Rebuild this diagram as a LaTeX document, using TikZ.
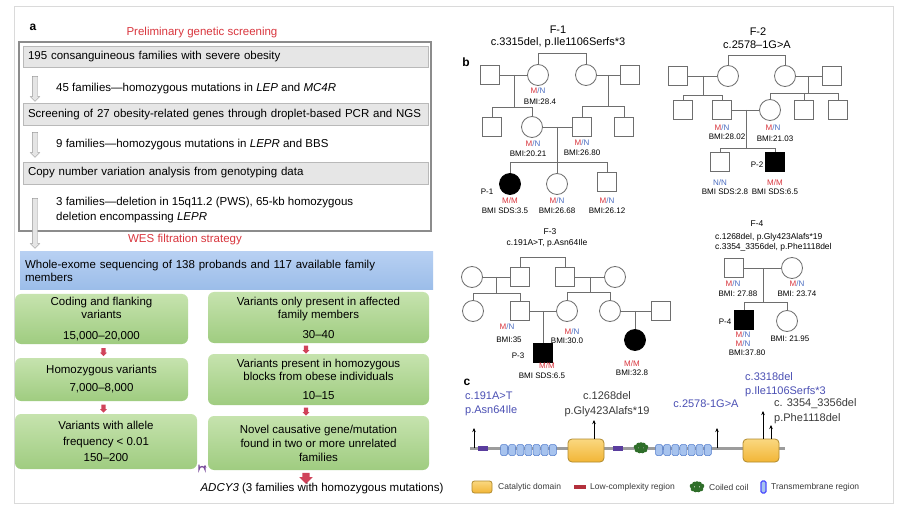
\documentclass[tikz,border=0pt]{standalone}
\usepackage{fontspec}
\setmainfont{Liberation Sans}
\usepackage{amsmath}
\usepackage[dvipsnames]{xcolor}
\usepackage{tikz}
\usetikzlibrary{calc,shapes.arrows,arrows.meta}

\definecolor{hred}{HTML}{D9363E}
\definecolor{boxgray}{HTML}{E6E6E6}
\definecolor{linegray}{HTML}{8C8C8C}
\definecolor{framegray}{HTML}{DADADA}
\definecolor{westop}{HTML}{B7D0F2}
\definecolor{wesbot}{HTML}{9BBDE9}
\definecolor{gtop}{HTML}{C6E3AE}
\definecolor{gbot}{HTML}{9FCC80}
\definecolor{arrred}{HTML}{D0435A}
\definecolor{upurple}{HTML}{7A4C9C}
\definecolor{pedgray}{HTML}{6E6E6E}
\definecolor{mred}{HTML}{D9363E}
\definecolor{nblue}{HTML}{4A6CC0}
\definecolor{mutblue}{HTML}{4B50B4}
\definecolor{mutgray}{HTML}{3A3A3A}
\definecolor{cattop}{HTML}{FAD880}
\definecolor{catbot}{HTML}{F2B536}
\definecolor{catedge}{HTML}{B08A2E}
\definecolor{tmblue}{HTML}{A7C3EE}
\definecolor{tmedge}{HTML}{4F7ACB}
\definecolor{lcpurple}{HTML}{5A3D9E}
\definecolor{lcred}{HTML}{B3303C}
\definecolor{ccgreen}{HTML}{2F6E2A}
\definecolor{protgray}{HTML}{9C9C9C}

\newcommand{\MN}{\textcolor{mred}{M}\textcolor{nblue}{/N}}
\newcommand{\MM}{\textcolor{mred}{M/M}}
\newcommand{\NN}{\textcolor{nblue}{N/N}}

\begin{document}
\begin{tikzpicture}[x=1pt,y=-1pt]
\tikzstyle{panel} = [font=\fontsize{12}{13}\selectfont\bfseries, inner sep=0pt]
\tikzstyle{heading} = [text=hred, font=\fontsize{11.5}{13}\selectfont, inner sep=0pt]
\tikzstyle{body} = [font=\fontsize{11.5}{15}\selectfont, anchor=west, align=left, inner sep=0pt]
\tikzstyle{graybox} = [draw=gray!55, fill=boxgray, line width=0.8pt, text width=395pt, inner xsep=5pt, inner ysep=0pt, align=left, font=\fontsize{11.5}{13}\selectfont]
\tikzstyle{wesbox} = [top color=westop, bottom color=wesbot, text width=403pt, inner xsep=5pt, inner ysep=0pt, align=left, font=\fontsize{11.5}{13}\selectfont]
\tikzstyle{hollow} = [single arrow, shape border rotate=270, draw=gray!80, fill=gray!20, inner sep=2.5pt, single arrow head extend=2pt]
\tikzstyle{greenbox} = [rounded corners=6pt, top color=gtop, bottom color=gbot, align=center, inner sep=0pt, font=\fontsize{11.5}{13}\selectfont]
\tikzstyle{redarrow} = [single arrow, shape border rotate=270, fill=arrred, inner sep=2pt, single arrow head extend=1.2pt, minimum height=8pt]
\tikzstyle{male} = [draw=pedgray, fill=white, line width=0.8pt, minimum size=19pt, inner sep=0pt]
\tikzstyle{female} = [circle, draw=pedgray, fill=white, line width=0.8pt, minimum size=21pt, inner sep=0pt]
\tikzstyle{affected} = [fill=black, draw=black]
\tikzstyle{ped} = [draw=pedgray, line width=0.8pt]
\tikzstyle{geno} = [font=\fontsize{8}{9}\selectfont, inner sep=0pt]
\tikzstyle{famtitle} = [font=\fontsize{11}{12}\selectfont, inner sep=0pt]
\tikzstyle{famsmall} = [font=\fontsize{8.5}{10}\selectfont, inner sep=0pt]
\tikzstyle{backbone} = [draw=protgray, line width=3pt]
\tikzstyle{tm} = [rounded corners=1.5pt, fill=tmblue, draw=tmedge, line width=0.5pt, minimum width=7pt, minimum height=11pt, inner sep=0pt]
\tikzstyle{cat} = [rounded corners=4pt, top color=cattop, bottom color=catbot, draw=catedge, line width=0.8pt, inner sep=0pt]
\tikzstyle{lolli} = [-{Stealth[length=4pt,width=3.5pt]}, line width=0.6pt]
\tikzstyle{mut} = [font=\fontsize{11}{14.5}\selectfont, inner sep=0pt]
\tikzstyle{legend} = [font=\fontsize{8.5}{10}\selectfont, inner sep=0pt, anchor=west, text=mutgray]

\useasboundingbox (0,0) rectangle (903,513);
\fill[white] (0,0) rectangle (903,513);
\draw[framegray, line width=1pt] (14,7) rectangle (893,503);

% panel a
\node[panel] (la) at (33,27) {a};
\node[heading] (hprelim) at (202,33) {Preliminary genetic screening};
\draw[linegray, line width=1.2pt] (19,42) rectangle (431,231);
\node[graybox, minimum height=21pt] (s1) at (225.5,56.5) {195 consanguineous families with severe obesity};
\node[graybox, minimum height=22pt] (s2) at (225.5,114.5) {Screening of 27 obesity-related genes through droplet-based PCR and NGS};
\node[graybox, minimum height=22pt] (s3) at (225.5,173) {Copy number variation analysis from genotyping data};
\node[hollow, minimum height=25pt] (h1) at (35,87.5) {};
\node[hollow, minimum height=25pt] (h2) at (35,143.5) {};
\node[hollow, minimum height=50pt] (h3) at (35,222) {};
\node[body] (t1) at (56,89) {45 families—homozygous mutations in \textit{LEP} and \textit{MC4R}};
\node[body] (t2) at (56,145) {9 families—homozygous mutations in \textit{LEPR} and BBS};
\node[body] (t3) at (56,210.5) {3 families—deletion in 15q11.2 (PWS), 65-kb homozygous\\deletion encompassing \textit{LEPR}};
\node[heading] (hwes) at (185,240) {WES filtration strategy};
\node[wesbox, minimum height=38pt] (wes) at (226.5,271) {Whole-exome sequencing of 138 probands and 117 available family\\members};

\node[greenbox, minimum width=173pt, minimum height=50pt] (cod) at (101.5,319) {Coding and flanking\\variants\\[8pt]15,000–20,000};
\node[greenbox, minimum width=173pt, minimum height=43pt] (hom) at (101.5,379.5) {Homozygous variants\\[5pt]7,000–8,000};
\node[greenbox, minimum width=182pt, minimum height=55pt] (frq) at (106,441.5) {Variants with allele\\[3pt]frequency < 0.01\\[3pt]150–200};
\node[greenbox, minimum width=221pt, minimum height=51pt] (aff) at (318.5,317.5) {Variants only present in affected\\family members\\[7pt]30–40};
\node[greenbox, minimum width=221pt, minimum height=51pt] (blk) at (318.5,379.5) {Variants present in homozygous\\blocks from obese individuals\\[6pt]10–15};
\node[greenbox, minimum width=221pt, minimum height=54pt] (nov) at (318.5,443) {Novel causative gene/mutation\\[1pt]found in two or more unrelated\\[1pt]families};
\node[redarrow] (r1) at (103.5,351) {};
\node[redarrow] (r2) at (103.5,407.5) {};
\node[redarrow] (r3) at (306,348.5) {};
\node[redarrow] (r4) at (306,410.5) {};
\node[redarrow, inner sep=3.5pt, single arrow head extend=3pt, minimum height=11pt] (r5) at (306,476.5) {};
\node[font=\fontsize{11.5}{13}\selectfont, inner sep=0pt] (adcy) at (322,489) {\textit{ADCY3} (3 families with homozygous mutations)};
\draw[upurple, line width=1.3pt, -{Stealth[length=2.5pt,width=3pt]}] (199,464.5) -- (199,469.5) arc[start angle=180, end angle=360, radius=3] -- (205,465);

% panel b
\node[panel] (lb) at (466,62) {b};
\node[famtitle] (f1t) at (558,30) {F-1};
\node[famtitle] (f1v) at (558,43) {c.3315del, p.Ile1106Serfs*3};
\node[male] (f1a) at (490,75) {};
\node[female] (f1b) at (538,75) {};
\node[female] (f1c) at (586,75) {};
\node[male] (f1d) at (630,75) {};
\node[male] (f1e) at (492,127) {};
\node[female] (f1f) at (532,127) {};
\node[male] (f1g) at (582,127) {};
\node[male] (f1h) at (624,127) {};
\node[female, affected] (f1i) at (510,184) {};
\node[female] (f1j) at (557,184) {};
\node[male] (f1k) at (607,182) {};
\coordinate (f1s0) at (0,53);
\coordinate (f1s1) at (0,107);
\coordinate (f1s2) at (0,106);
\coordinate (f1s3) at (0,162);
\coordinate (f1m1) at ($(f1a)!0.5!(f1b)$);
\coordinate (f1m2) at ($(f1c)!0.5!(f1d)$);
\coordinate (f1m3) at ($(f1f)!0.5!(f1g)$);
\draw[ped] (f1b.north) |- (f1s0 -| f1c.north) -- (f1c.north);
\draw[ped] (f1a) -- (f1b);
\draw[ped] (f1c) -- (f1d);
\draw[ped] (f1f) -- (f1g);
\draw[ped] (f1m1) -- (f1m1 |- f1s1);
\draw[ped] (f1e.north) |- (f1s1 -| f1f.north) -- (f1f.north);
\draw[ped] (f1m2) -- (f1m2 |- f1s2);
\draw[ped] (f1g.north) |- (f1s2 -| f1h.north) -- (f1h.north);
\draw[ped] (f1m3) -- (f1j.north);
\draw[ped] (f1i.north) |- (f1s3 -| f1k.north) -- (f1k.north);
\node[geno] (f1bg) at (538,91) {\MN};
\node[geno] (f1bb) at (540,102) {BMI:28.4};
\node[geno] (f1fg) at (533,144) {\MN};
\node[geno] (f1fb) at (528,154) {BMI:20.21};
\node[geno] (f1gg) at (582,143) {\MN};
\node[geno] (f1gb) at (582,153) {BMI:26.80};
\node[geno] (f1p) at (487,192) {P-1};
\node[geno] (f1ig) at (510,201) {\MM};
\node[geno] (f1ib) at (505,211) {BMI SDS:3.5};
\node[geno] (f1jg) at (557,201) {\MN};
\node[geno] (f1jb) at (557,211) {BMI:26.68};
\node[geno] (f1kg) at (607,201) {\MN};
\node[geno] (f1kb) at (607,211) {BMI:26.12};

\node[famtitle] (f2t) at (758,32) {F-2};
\node[famtitle] (f2v) at (757,45) {c.2578–1G>A};
\node[male] (f2a) at (678,76) {};
\node[female] (f2b) at (728,76) {};
\node[female] (f2c) at (785,76) {};
\node[male] (f2d) at (832,76) {};
\node[male] (f2e) at (683,110) {};
\node[male] (f2f) at (722,110) {};
\node[female] (f2g) at (770,110) {};
\node[male] (f2h) at (804,110) {};
\node[male] (f2i) at (838,110) {};
\node[male] (f2j) at (720,162) {};
\node[male, affected] (f2k) at (775,162) {};
\coordinate (f2s0) at (0,55);
\coordinate (f2s1) at (0,95);
\coordinate (f2s2) at (0,93);
\coordinate (f2s3) at (0,148);
\coordinate (f2m1) at ($(f2a)!0.5!(f2b)$);
\coordinate (f2m2) at ($(f2c)!0.5!(f2d)$);
\coordinate (f2m3) at ($(f2f)!0.5!(f2g)$);
\draw[ped] (f2b.north) |- (f2s0 -| f2c.north) -- (f2c.north);
\draw[ped] (f2a) -- (f2b);
\draw[ped] (f2c) -- (f2d);
\draw[ped] (f2f) -- (f2g);
\draw[ped] (f2m1) -- (f2m1 |- f2s1);
\draw[ped] (f2e.north) |- (f2s1 -| f2f.north) -- (f2f.north);
\draw[ped] (f2m2) -- (f2m2 |- f2s2);
\draw[ped] (f2g.north) |- (f2s2 -| f2i.north) -- (f2i.north);
\draw[ped] (f2h.north) -- (f2h.north |- f2s2);
\draw[ped] (f2m3) -- (f2m3 |- f2s3);
\draw[ped] (f2j.north) |- (f2s3 -| f2k.north) -- (f2k.north);
\node[geno] (f2fg) at (722,128) {\MN};
\node[geno] (f2fb) at (727,137) {BMI:28.02};
\node[geno] (f2gg) at (773,128) {\MN};
\node[geno] (f2gb) at (775,139) {BMI:21.03};
\node[geno] (f2p) at (757,165) {P-2};
\node[geno] (f2jg) at (720,183) {\NN};
\node[geno] (f2jb) at (725,192) {BMI SDS:2.8};
\node[geno] (f2kg) at (775,183) {\MM};
\node[geno] (f2kb) at (775,192) {BMI SDS:6.5};

\node[famsmall] (f3t) at (550,232) {F-3};
\node[famsmall] (f3v) at (547,243) {c.191A>T, p.Asn64Ile};
\node[female] (f3a) at (472,277) {};
\node[male] (f3b) at (520,277) {};
\node[male] (f3c) at (565,277) {};
\node[female] (f3d) at (615,277) {};
\node[female] (f3e) at (473,311) {};
\node[male] (f3f) at (520,311) {};
\node[female] (f3g) at (567,311) {};
\node[female] (f3h) at (610,311) {};
\node[male] (f3j) at (661,311) {};
\node[male, affected] (f3i) at (543,353) {};
\node[female, affected] (f3k) at (635,340) {};
\coordinate (f3s0) at (0,257);
\coordinate (f3s1) at (0,293);
\coordinate (f3s2) at (0,292);
\coordinate (f3m1) at ($(f3a)!0.5!(f3b)$);
\coordinate (f3m2) at ($(f3c)!0.5!(f3d)$);
\coordinate (f3m3) at ($(f3f)!0.5!(f3g)$);
\coordinate (f3m4) at ($(f3h)!0.5!(f3j)$);
\draw[ped] (f3b.north) |- (f3s0 -| f3c.north) -- (f3c.north);
\draw[ped] (f3a) -- (f3b);
\draw[ped] (f3c) -- (f3d);
\draw[ped] (f3f) -- (f3g);
\draw[ped] (f3h) -- (f3j);
\draw[ped] (f3m1) -- (f3m1 |- f3s1);
\draw[ped] (f3e.north) |- (f3s1 -| f3f.north) -- (f3f.north);
\draw[ped] (f3m2) -- (f3m2 |- f3s2);
\draw[ped] (f3g.north) |- (f3s2 -| f3h.north) -- (f3h.north);
\draw[ped] (f3m3) -- (f3m3 |- f3i.north);
\draw[ped] (f3m4) -- (f3m4 |- f3k.north);
\node[geno] (f3fg) at (507,327) {\MN};
\node[geno] (f3fb) at (509,340) {BMI:35};
\node[geno] (f3gg) at (572,332) {\MN};
\node[geno] (f3gb) at (567,341) {BMI:30.0};
\node[geno] (f3p) at (518,356) {P-3};
\node[geno] (f3ig) at (547,366) {\MM};
\node[geno] (f3ib) at (542,376) {BMI SDS:6.5};
\node[geno] (f3kg) at (632,364) {\MM};
\node[geno] (f3kb) at (632,373) {BMI:32.8};

\node[famsmall] (f4t) at (757,224) {F-4};
\node[famsmall, anchor=west, align=left] (f4v) at (715,242) {c.1268del, p.Gly423Alafs*19\\c.3354\_3356del, p.Phe1118del};
\node[male] (f4a) at (734,268) {};
\node[female] (f4b) at (792,268) {};
\node[male, affected] (f4c) at (744,320) {};
\node[female] (f4d) at (787,321) {};
\coordinate (f4s1) at (0,302);
\coordinate (f4m1) at ($(f4a)!0.5!(f4b)$);
\draw[ped] (f4a) -- (f4b);
\draw[ped] (f4m1) -- (f4m1 |- f4s1);
\draw[ped] (f4c.north) |- (f4s1 -| f4d.north) -- (f4d.north);
\node[geno] (f4ag) at (733,284) {\MN};
\node[geno] (f4ab) at (738,294) {BMI: 27.88};
\node[geno] (f4bg) at (797,284) {\MN};
\node[geno] (f4bb) at (797,294) {BMI: 23.74};
\node[geno] (f4p) at (725,322) {P-4};
\node[geno] (f4cg) at (743,335) {\MN};
\node[geno] (f4ch) at (743,344) {\MN};
\node[geno] (f4cb) at (747,353) {BMI:37.80};
\node[geno] (f4db) at (790,339) {BMI: 21.95};

% panel c
\node[panel] (lc) at (467,382) {c};
\coordinate (bb0) at (470,448);
\coordinate (bb1) at (785,448);
\draw[backbone] (bb0) -- (bb1);
\fill[lcpurple] (478,445.5) rectangle (488,450.5);
\fill[lcpurple] (613,445.5) rectangle (623,450.5);
\foreach \i in {0,...,6} {
    \node[tm] (tma\i) at (504+8.14*\i,450) {};
    \node[tm] (tmb\i) at (659+8.14*\i,450) {};
}
\node[cat, minimum width=36pt, minimum height=23pt] (cat1) at (586,450.5) {};
\node[cat, minimum width=36pt, minimum height=23pt] (cat2) at (761,450.5) {};
\coordinate (cc1) at (641,448);
\coordinate (cc2) at (697,487);
\foreach \dx/\dy in {-5/-1,-2.5/-3,0/-3.5,2.5/-3,5/-1,-4/2,-1.5/3,1.5/3,4/2,0/0} {
    \fill[ccgreen] ($(cc1)+(\dx,\dy)$) circle[radius=2.3pt];
    \fill[ccgreen] ($(cc2)+(\dx,\dy)$) circle[radius=2.3pt];
}
\coordinate (m1) at (474,428);
\coordinate (m2) at (594,420);
\coordinate (m3) at (717,428);
\coordinate (m4) at (763,411);
\coordinate (m5) at (771,425);
\draw[lolli] (m1 |- bb0) -- (m1);
\draw[lolli] (m2 |- cat1.north) -- (m2);
\draw[lolli] (m3 |- bb0) -- (m3);
\draw[lolli] (m4 |- cat2.north) -- (m4);
\draw[lolli] (m5 |- cat2.north) -- (m5);
\node[mut, text=mutblue, anchor=west, align=left] (l1) at (465,404) {c.191A>T\\p.Asn64Ile};
\node[mut, text=mutgray, align=center] (l2) at (607,404) {c.1268del\\p.Gly423Alafs*19};
\node[mut, text=mutblue] (l3) at (706,404) {c.2578-1G>A};
\node[mut, text=mutblue, anchor=west, align=left] (l4) at (745,384.5) {c.3318del\\p.Ile1106Serfs*3};
\node[mut, text=mutgray, anchor=west, align=left] (l5) at (774,411) {c. 3354\_3356del\\p.Phe1118del};

\node[cat, minimum width=20pt, minimum height=12pt, rounded corners=2.5pt] (kcat) at (482,487) {};
\node[legend] (kcatt) at (498,487) {Catalytic domain};
\node[fill=lcred, minimum width=12pt, minimum height=4pt, inner sep=0pt] (klc) at (580,487) {};
\node[legend] (klct) at (590,487) {Low-complexity region};
\node[legend] (kcct) at (709,487) {Coiled coil};
\node[rounded corners=1.5pt, fill=tmblue, draw=blue!70, line width=1.2pt, minimum width=5pt, minimum height=12pt, inner sep=0pt] (ktm) at (763.5,487) {};
\node[legend] (ktmt) at (771,487) {Transmembrane region};
\end{tikzpicture}
\end{document}
